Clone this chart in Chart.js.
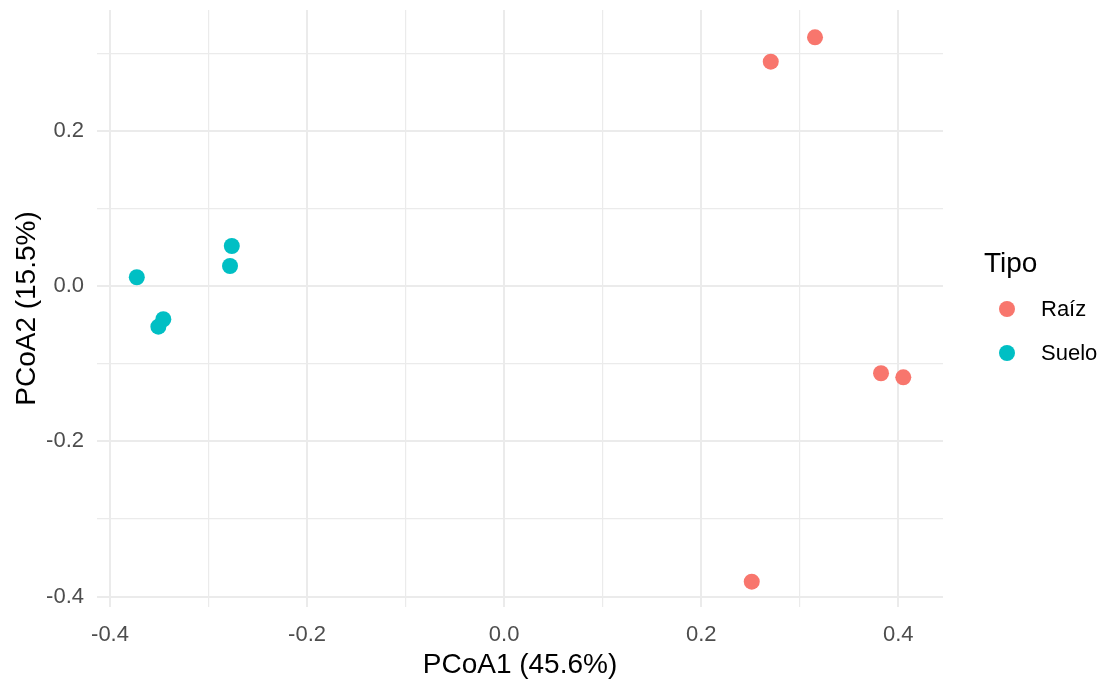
<!DOCTYPE html>
<html>
<head>
<meta charset="utf-8">
<script src="https://cdn.jsdelivr.net/npm/chart.js@4"></script>
<style>
  html, body { margin: 0; background: #fff; }
  #marco { width: 1106px; height: 683px; }
</style>
</head>
<body>
<div id="marco"><canvas id="grafico"></canvas></div>
<script>
const tipos = ["Raíz", "Suelo"];
const colores = ["#F8766D", "#00BFC4"];
const raizX = [0.2706, 0.3155, 0.3825, 0.4051, 0.2513];
const raizY = [0.2892, 0.3206, -0.1122, -0.1174, -0.3807];
const sueloX = [-0.3728, -0.2764, -0.2782, -0.3459, -0.3509];
const sueloY = [0.0115, 0.0518, 0.0260, -0.0426, -0.0522];
const etiquetasTick = [-0.4, -0.2, 0.0, 0.2, 0.4];

const FUENTE = "'Liberation Sans', Arial, sans-serif";
const puntos = (xs, ys) => xs.map((x, i) => ({ x, y: ys[i] }));
const esMayor = (v) => etiquetasTick.some((t) => Math.abs(t - v) < 1e-6);

// Leyenda al estilo ggplot
const leyendaTipo = {
  id: "leyendaTipo",
  afterDraw(chart) {
    const ctx = chart.ctx;
    ctx.save();
    ctx.fillStyle = "#000";
    ctx.font = "28px " + FUENTE;
    ctx.textBaseline = "alphabetic";
    ctx.fillText("Tipo", 984, 272);
    chart.data.datasets.forEach((ds, i) => {
      const y = 309 + i * 44;
      ctx.beginPath();
      ctx.arc(1007, y, 8, 0, Math.PI * 2);
      ctx.fillStyle = ds.backgroundColor;
      ctx.fill();
      ctx.fillStyle = "#000";
      ctx.font = "22px " + FUENTE;
      ctx.textBaseline = "middle";
      ctx.fillText(ds.label, 1041, y + 1);
    });
    ctx.restore();
  },
};

const fondoBlanco = {
  id: "fondoBlanco",
  beforeDraw(chart) {
    const ctx = chart.ctx;
    ctx.save();
    ctx.fillStyle = "#fff";
    ctx.fillRect(0, 0, chart.width, chart.height);
    ctx.restore();
  },
};

const rejilla = {
  color: "#ebebeb",
  lineWidth: (c) => (esMayor(c.tick.value) ? 2 : 1.2),
  drawTicks: false,
};

const ticksComunes = (padding) => ({
  stepSize: 0.1,
  includeBounds: false,
  padding,
  color: "#4d4d4d",
  font: { family: FUENTE, size: 22 },
  callback: (v) => (esMayor(v) ? Number(v).toFixed(1) : ""),
});

new Chart(document.getElementById("grafico"), {
  type: "scatter",
  data: {
    datasets: [
      { label: tipos[0], data: puntos(raizX, raizY), backgroundColor: colores[0] },
      { label: tipos[1], data: puntos(sueloX, sueloY), backgroundColor: colores[1] },
    ],
  },
  options: {
    responsive: true,
    maintainAspectRatio: false,
    devicePixelRatio: 1,
    animation: false,
    layout: { padding: { top: 10, right: 163, left: 0, bottom: 0 } },
    elements: { point: { radius: 8, hoverRadius: 8, borderWidth: 0 } },
    plugins: { legend: { display: false }, tooltip: { enabled: false } },
    scales: {
      x: {
        type: "linear",
        min: -0.4132,
        max: 0.4454,
        grid: rejilla,
        border: { display: false },
        ticks: ticksComunes(15),
        title: {
          display: true,
          text: "PCoA1 (45.6%)",
          color: "#000",
          font: { family: FUENTE, size: 28 },
          padding: { top: 0, bottom: 1 },
        },
        afterFit: (s) => {
          s.height = 76;
          s.paddingLeft = 0;
          s.paddingRight = 0;
        },
      },
      y: {
        type: "linear",
        min: -0.4133,
        max: 0.3558,
        grid: rejilla,
        border: { display: false },
        ticks: ticksComunes(13),
        title: {
          display: true,
          text: "PCoA2 (15.5%)",
          color: "#000",
          font: { family: FUENTE, size: 28 },
          padding: { top: 10, bottom: 0 },
        },
        afterFit: (s) => {
          s.width = 97;
          s.paddingTop = 0;
          s.paddingBottom = 0;
        },
      },
    },
  },
  plugins: [fondoBlanco, leyendaTipo],
});
</script>
</body>
</html>
